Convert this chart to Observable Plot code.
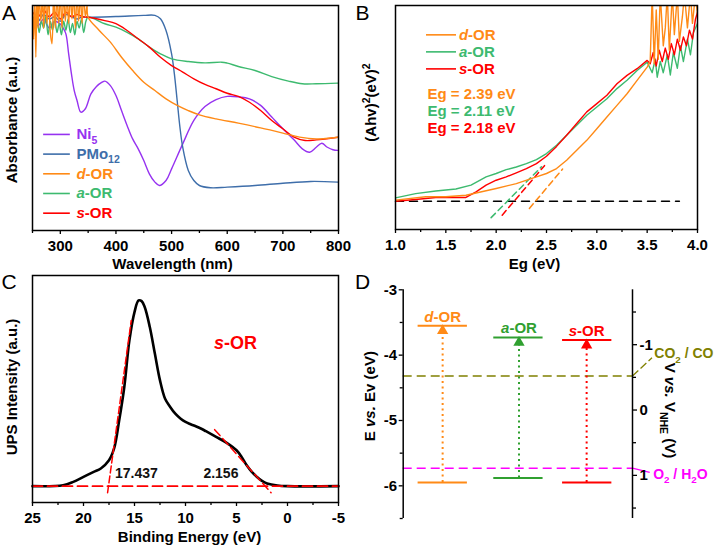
<!DOCTYPE html>
<html>
<head>
<meta charset="utf-8">
<script src="https://cdn.jsdelivr.net/npm/d3@7"></script>
<script src="https://cdn.jsdelivr.net/npm/@observablehq/plot@0.6"></script>
<style>
  html, body { margin: 0; padding: 0; background: white; }
  #fig { position: relative; width: 716px; height: 548px; overflow: hidden; background: white; }
</style>
</head>
<body>
<div id="fig"></div>
<script>
// ---------------- Panel A: UV-vis absorbance (normalized, a.u.) ----------------
const ni5 = [[250,0.93],[260,0.91],[270,0.94],[280,0.9],[290,0.93],[300,0.918],[305,0.9],[310,0.874],[315,0.785],[320,0.696],[325,0.622],[330,0.578],[337,0.526],[345,0.541],[355,0.607],[365,0.64],[375,0.659],[380,0.664],[390,0.644],[400,0.6],[410,0.533],[420,0.467],[430,0.407],[440,0.363],[450,0.311],[460,0.252],[470,0.215],[478,0.2],[490,0.222],[500,0.274],[520,0.385],[540,0.489],[560,0.551],[580,0.582],[600,0.596],[620,0.594],[640,0.585],[660,0.556],[680,0.504],[700,0.452],[720,0.403],[735,0.363],[748,0.348],[760,0.37],[770,0.388],[780,0.37],[790,0.359],[800,0.356]];
const pmo12 = [[250,0.95],[260,0.93],[270,0.96],[280,0.94],[290,0.95],[300,0.93],[310,0.96],[320,0.95],[330,0.94],[340,0.95],[350,0.948],[400,0.951],[450,0.956],[470,0.956],[480,0.941],[490,0.889],[500,0.785],[505,0.696],[510,0.578],[515,0.459],[520,0.37],[530,0.267],[540,0.222],[550,0.2],[570,0.19],[600,0.193],[650,0.2],[700,0.21],[750,0.218],[800,0.215]];
const dORa = [[250,0.98],[252,0.85],[254,1.05],[256,0.77],[258,1.05],[260,0.9],[262,1.05],[265,0.93],[268,1.05],[270,0.9],[273,1.05],[276,0.92],[279,1.05],[282,0.88],[285,0.83],[288,1.05],[291,0.9],[294,1.05],[297,0.92],[300,1.05],[303,0.9],[306,1.05],[309,0.93],[312,1.05],[315,0.92],[318,1.05],[321,0.94],[324,1.05],[327,0.9],[330,1.05],[333,0.93],[336,1.05],[339,0.92],[342,1.05],[345,0.95],[348,1.0],[350,0.948],[370,0.889],[390,0.837],[410,0.77],[430,0.711],[450,0.659],[470,0.622],[490,0.585],[510,0.556],[530,0.533],[550,0.514],[580,0.496],[620,0.477],[660,0.456],[700,0.433],[730,0.415],[760,0.407],[800,0.415]];
const aORa = [[250,0.94],[254,0.9],[258,0.95],[262,0.88],[266,0.93],[270,0.9],[274,0.95],[278,0.87],[282,0.93],[286,0.89],[290,0.94],[294,0.88],[298,0.92],[302,0.87],[306,0.93],[310,0.89],[314,0.94],[318,0.88],[322,0.92],[326,0.87],[330,0.93],[334,0.9],[338,0.94],[342,0.88],[346,0.93],[350,0.948],[380,0.919],[400,0.904],[420,0.881],[440,0.852],[460,0.815],[480,0.785],[500,0.763],[530,0.751],[560,0.745],[590,0.748],[600,0.744],[620,0.729],[650,0.711],[680,0.684],[710,0.664],[735,0.652],[760,0.652],[800,0.655]];
const sORa = [[250,0.97],[260,0.95],[270,0.98],[280,0.95],[290,0.97],[300,0.94],[310,0.97],[320,0.95],[330,0.96],[340,0.95],[350,0.948],[380,0.933],[400,0.919],[420,0.889],[440,0.852],[460,0.815],[480,0.77],[500,0.733],[520,0.704],[540,0.674],[560,0.649],[580,0.63],[600,0.61],[620,0.596],[640,0.57],[660,0.533],[680,0.489],[700,0.452],[720,0.415],[740,0.4],[760,0.403],[800,0.415]];
const legendA = ["Ni_{5}", "PMo_{12}", "*{d}-OR", "*{a}-OR", "*{s}-OR"];
const ticksA = [300, 400, 500, 600, 700, 800];
const minorA = [250, 350, 450, 550, 650, 750];

// ---------------- Panel B: Tauc plot ----------------
const dORb = [[1.0,0.131],[1.3,0.146],[1.5,0.146],[1.7,0.153],[2.0,0.183],[2.2,0.205],[2.4,0.235],[2.5,0.25],[2.6,0.272],[2.7,0.309],[2.8,0.354],[2.9,0.398],[3.0,0.45],[3.1,0.502],[3.2,0.554],[3.3,0.606],[3.4,0.666],[3.5,0.725],[3.53,0.75],[3.55,1.05],[3.57,0.74],[3.59,0.98],[3.61,0.76],[3.63,1.05],[3.66,0.82],[3.68,0.9],[3.7,1.05],[3.72,0.8],[3.75,1.05],[3.77,0.87],[3.8,1.05],[3.82,0.84],[3.85,0.95],[3.87,1.05],[3.9,0.9],[3.93,1.05],[3.95,0.92],[3.98,1.05],[4.0,0.96]];
const aORb = [[1.0,0.141],[1.2,0.16],[1.4,0.172],[1.6,0.181],[1.75,0.198],[1.9,0.235],[2.0,0.25],[2.1,0.267],[2.2,0.279],[2.3,0.294],[2.4,0.312],[2.5,0.339],[2.6,0.376],[2.7,0.421],[2.8,0.465],[2.9,0.51],[3.0,0.547],[3.1,0.584],[3.2,0.629],[3.3,0.666],[3.4,0.71],[3.5,0.747],[3.55,0.7],[3.58,0.76],[3.6,0.68],[3.63,0.75],[3.66,0.7],[3.7,0.78],[3.73,0.69],[3.76,0.79],[3.8,0.72],[3.83,0.82],[3.86,0.75],[3.9,0.85],[3.93,0.78],[3.96,0.88],[4.0,0.92]];
const sORb = [[1.0,0.126],[1.2,0.134],[1.4,0.143],[1.7,0.143],[1.8,0.168],[1.9,0.198],[2.0,0.22],[2.1,0.235],[2.2,0.253],[2.3,0.272],[2.4,0.294],[2.5,0.327],[2.6,0.371],[2.7,0.421],[2.8,0.473],[2.9,0.525],[3.0,0.562],[3.1,0.599],[3.2,0.651],[3.3,0.688],[3.4,0.718],[3.5,0.755],[3.53,0.74],[3.56,0.79],[3.59,0.73],[3.62,0.8],[3.65,0.75],[3.68,0.81],[3.71,0.76],[3.74,0.83],[3.77,0.78],[3.8,0.85],[3.83,0.8],[3.86,0.86],[3.89,0.82],[3.92,0.89],[3.95,0.85],[3.98,0.94],[4.0,0.97]];
const baselineB = [[1.0,0.126],[3.82,0.126]];
const tangentD = [[2.33,0.094],[2.66,0.27]];
const tangentA = [[1.95,0.053],[2.45,0.28]];
const tangentS = [[2.06,0.064],[2.48,0.285]];
const legendB = ["*{d}-OR", "*{a}-OR", "*{s}-OR"];
const egLabels = ["Eg = 2.39 eV", "Eg = 2.11 eV", "Eg = 2.18 eV"];
const ticksB = [1.0, 1.5, 2.0, 2.5, 3.0, 3.5, 4.0];
const minorB = [1.25, 1.75, 2.25, 2.75, 3.25, 3.75];

// ---------------- Panel C: UPS ----------------
const ups = [[25,0.072],[22,0.076],[21,0.091],[20,0.113],[19,0.135],[18.3,0.15],[17.5,0.186],[17,0.238],[16.5,0.362],[16,0.509],[15.5,0.714],[15,0.839],[14.6,0.89],[14.3,0.887],[14,0.861],[13.5,0.773],[13,0.655],[12.5,0.538],[12,0.457],[11.5,0.421],[11,0.391],[10.5,0.37],[10,0.355],[9.5,0.345],[9,0.336],[8.5,0.326],[8,0.314],[7,0.289],[6,0.264],[5,0.23],[4.5,0.201],[4,0.164],[3.5,0.135],[3,0.113],[2.5,0.095],[2,0.084],[1,0.075],[0,0.072],[-5,0.072]];
const upsBaseline = [[25,0.072],[-5,0.072]];
const upsCutoff = [[17.64,0.043],[15.32,0.802]];
const upsOnset = [[7.14,0.321],[1.61,0.043]];
const upsValues = [{x: 14.82, label: "17.437"}, {x: 6.53, label: "2.156"}];
const ticksC = [25, 20, 15, 10, 5, 0, -5];
const minorC = [22.5, 17.5, 12.5, 7.5, 2.5, -2.5];

// ---------------- Panel D: band positions ----------------
const bands = [
  {name: "*{d}-OR", cb: -3.55, vb: -5.95, x1: 0.65, x2: 2.8, xc: 1.72},
  {name: "*{a}-OR", cb: -3.73, vb: -5.88, x1: 3.95, x2: 6.1, xc: 5.05},
  {name: "*{s}-OR", cb: -3.77, vb: -5.95, x1: 6.95, x2: 9.1, xc: 8.0}
];
const co2co = -4.32;
const o2h2o = -5.73;
const ticksD = [-3, -4, -5, -6];
const minorD = [-3.5, -4.5, -5.5, -6.5];
const nheZero = -4.84;           // E (eV) at 0 V vs NHE on this figure's scale
const nheTicks = [-1, 0, 1];
const nheMinor = [-1.5, -0.5, 0.5, 1.5];

// ---------------- colours ----------------
const cNi5 = "#9632f0", cPMo = "#3e6eaa", cD = "#ff8a16", cA = "#3dba6f", cS = "#ff0000";
const cAD = "#30a030", cOlive = "#808000", cMag = "#ff00ff";
const colorsA = [cNi5, cPMo, cD, cA, cS];
const colorsB = [cD, cA, cS];
const colorsD = [cD, cAD, cS];

const FONT = "'Liberation Sans', Arial, Helvetica, sans-serif";
const baseStyle = {fontFamily: FONT, fontSize: "15px", fontWeight: "bold", color: "black", background: "transparent", overflow: "visible"};
const fmt = d => String(d);
const blank = () => "";

// Rich text: _{sub} ^{sup} *{italic}
function rich(svg) {
  d3.select(svg).selectAll("text").each(function() {
    const el = this;
    if (el.children.length) return;
    const s = el.textContent;
    if (!/[_^*]\{/.test(s)) return;
    const F = parseFloat(getComputedStyle(el).fontSize) || 15;
    el.textContent = "";
    const re = /([_^*])\{([^}]*)\}/g;
    let last = 0, shift = 0, m;
    const add = (txt, kind) => {
      if (!txt) return;
      const t = document.createElementNS("http://www.w3.org/2000/svg", "tspan");
      let target = 0;
      if (kind === "_") { target = 0.3 * F; t.setAttribute("font-size", (0.7 * F) + "px"); }
      else if (kind === "^") { target = -0.4 * F; t.setAttribute("font-size", (0.7 * F) + "px"); }
      else if (kind === "*") { t.setAttribute("font-style", "italic"); }
      const dy = target - shift;
      if (dy !== 0) t.setAttribute("dy", dy + "px");
      shift = target;
      t.textContent = txt;
      el.appendChild(t);
    };
    while ((m = re.exec(s))) {
      add(s.slice(last, m.index), "");
      add(m[2], m[1]);
      last = re.lastIndex;
    }
    add(s.slice(last), "");
  });
}

const fig = document.getElementById("fig");
function place(svg, left, top) {
  const d = document.createElement("div");
  d.style.cssText = `position:absolute;left:${left}px;top:${top}px;`;
  d.appendChild(svg);
  fig.appendChild(d);
  rich(svg);
}
const panelLetter = (t, dx, dy) => Plot.text([t], {frameAnchor: "top-left", dx, dy, fontSize: 21, fontWeight: "normal", textAnchor: "middle", lineAnchor: "middle"});
const xTitle = (t, dx, dy) => Plot.text([t], {frameAnchor: "bottom", dx, dy, fontSize: 15, fontWeight: "bold", textAnchor: "middle", lineAnchor: "middle"});
const yTitle = (t, anchor, rotate, dx, dy) => Plot.text([t], {frameAnchor: anchor, rotate, dx, dy, fontSize: 15, fontWeight: "bold", textAnchor: "middle", lineAnchor: "middle"});

// ---------------- Panel A ----------------
const seriesA = [ni5, pmo12, aORa, sORa, dORa];
const seriesAColors = [cNi5, cPMo, cA, cS, cD];
const plotA = Plot.plot({
  width: 358, height: 274, marginLeft: 32, marginRight: 20, marginTop: 5, marginBottom: 44,
  style: baseStyle,
  x: {domain: [250, 800]},
  y: {domain: [0, 1], axis: null},
  marks: [
    ...seriesA.map((s, i) => Plot.line(s, {x: d => d[0], y: d => d[1], stroke: seriesAColors[i], strokeWidth: 1.4, curve: "catmull-rom", clip: true})),
    Plot.frame({stroke: "black", strokeWidth: 1.5}),
    Plot.axisX({ticks: ticksA, tickSize: 4, tickPadding: 6, tickFormat: fmt, label: null, strokeWidth: 1.3}),
    Plot.axisX({ticks: minorA, tickSize: 3, tickFormat: blank, label: null, strokeWidth: 1.3}),
    Plot.ruleY(legendA, {y: (d, i) => 0.427 - i * 0.0875, x1: 270, x2: 318, stroke: (d, i) => colorsA[i], strokeWidth: 1.6}),
    Plot.text(legendA, {y: (d, i) => 0.427 - i * 0.0875, x: 329, text: d => d, fill: (d, i) => colorsA[i], textAnchor: "start", fontSize: 15, fontWeight: "bold"}),
    xTitle("Wavelength (nm)", -13, 34),
    yTitle("Absorbance (a.u.)", "left", -90, -20, 2),
    panelLetter("A", -23.5, 7.5)
  ]
});

// ---------------- Panel B ----------------
const plotB = Plot.plot({
  width: 358, height: 274, marginLeft: 37, marginRight: 19, marginTop: 5, marginBottom: 45,
  style: baseStyle,
  x: {domain: [1, 4]},
  y: {domain: [0, 1], axis: null},
  marks: [
    Plot.line(baselineB, {x: d => d[0], y: d => d[1], stroke: "black", strokeWidth: 1.5, strokeDasharray: "8,6"}),
    Plot.line(tangentD, {x: d => d[0], y: d => d[1], stroke: cD, strokeWidth: 1.5, strokeDasharray: "6,4"}),
    Plot.line(tangentA, {x: d => d[0], y: d => d[1], stroke: cA, strokeWidth: 1.5, strokeDasharray: "6,4"}),
    Plot.line(tangentS, {x: d => d[0], y: d => d[1], stroke: cS, strokeWidth: 1.5, strokeDasharray: "6,4"}),
    Plot.line(aORb, {x: d => d[0], y: d => d[1], stroke: cA, strokeWidth: 1.4, clip: true}),
    Plot.line(sORb, {x: d => d[0], y: d => d[1], stroke: cS, strokeWidth: 1.4, clip: true}),
    Plot.line(dORb, {x: d => d[0], y: d => d[1], stroke: cD, strokeWidth: 1.4, clip: true}),
    Plot.frame({stroke: "black", strokeWidth: 1.5}),
    Plot.axisX({ticks: ticksB, tickSize: 4, tickPadding: 6, tickFormat: d3.format(".1f"), label: null, strokeWidth: 1.3}),
    Plot.axisX({ticks: minorB, tickSize: 3, tickFormat: blank, label: null, strokeWidth: 1.3}),
    Plot.ruleY(legendB, {y: (d, i) => 0.869 - i * 0.076, x1: 1.308, x2: 1.606, stroke: (d, i) => colorsB[i], strokeWidth: 1.6}),
    Plot.text(legendB, {y: (d, i) => 0.869 - i * 0.076, x: 1.63, text: d => d, fill: (d, i) => colorsB[i], textAnchor: "start", fontSize: 15, fontWeight: "bold"}),
    Plot.text(egLabels, {y: (d, i) => 0.606 - i * 0.076, x: 1.318, text: d => d, fill: (d, i) => colorsB[i], textAnchor: "start", fontSize: 15, fontWeight: "bold"}),
    xTitle("Eg (eV)", -12, 35),
    yTitle("(Ahv)^{2}(eV)^{2}", "left", -90, -24, -15),
    panelLetter("B", -33, 7.5)
  ]
});

// ---------------- Panel C ----------------
const plotC = Plot.plot({
  width: 358, height: 280, marginLeft: 32, marginRight: 20, marginTop: 7, marginBottom: 46,
  style: baseStyle,
  x: {domain: [25, -5]},
  y: {domain: [0, 1], axis: null},
  marks: [
    Plot.line(ups, {x: d => d[0], y: d => d[1], stroke: "black", strokeWidth: 2.6, curve: "catmull-rom"}),
    Plot.line(upsBaseline, {x: d => d[0], y: d => d[1], stroke: cS, strokeWidth: 1.8, strokeDasharray: "10,5"}),
    Plot.line(upsCutoff, {x: d => d[0], y: d => d[1], stroke: cS, strokeWidth: 1.5, strokeDasharray: "7,3"}),
    Plot.line(upsOnset, {x: d => d[0], y: d => d[1], stroke: cS, strokeWidth: 1.5, strokeDasharray: "8,4"}),
    Plot.frame({stroke: "black", strokeWidth: 1.5}),
    Plot.axisX({ticks: ticksC, tickSize: 4, tickPadding: 6, tickFormat: fmt, label: null, strokeWidth: 1.3}),
    Plot.axisX({ticks: minorC, tickSize: 3, tickFormat: blank, label: null, strokeWidth: 1.3}),
    Plot.text(upsValues, {x: "x", y: 0.126, text: "label", fontSize: 14, fontWeight: "bold", fill: "#111"}),
    Plot.text(["*{s}-OR"], {x: 5.1, y: 0.702, fill: cS, fontSize: 18, fontWeight: "bold"}),
    xTitle("Binding Energy (eV)", 4, 35),
    yTitle("UPS Intensity (a.u.)", "left", -90, -20, -2),
    panelLetter("C", -23.5, 7)
  ]
});

// ---------------- Panel D ----------------
const plotD = Plot.plot({
  width: 358, height: 280, marginLeft: 44.7, marginRight: 84, marginTop: 21.3, marginBottom: 30,
  style: baseStyle,
  x: {domain: [0, 10], axis: null},
  y: {domain: [-6.5, -3]},
  marks: [
    Plot.ruleY([co2co], {x1: 0, x2: 10, stroke: cOlive, strokeWidth: 1.6, strokeDasharray: "9,5"}),
    Plot.ruleY([o2h2o], {x1: 0, x2: 10, stroke: cMag, strokeWidth: 1.6, strokeDasharray: "9,5"}),
    Plot.link([co2co], {x1: 10, y1: d => d, x2: 10.85, y2: -4.04, stroke: cOlive, strokeWidth: 1.3, strokeDasharray: "8,3"}),
    Plot.link([o2h2o], {x1: 10, y1: d => d, x2: 10.75, y2: -5.793, stroke: cMag, strokeWidth: 1.3}),
    Plot.text(["CO_{2} / CO"], {x: 10.95, y: -3.98, textAnchor: "start", fill: cOlive, fontSize: 14, fontWeight: "bold"}),
    Plot.text(["O_{2} / H_{2}O"], {x: 10.9, y: -5.83, textAnchor: "start", fill: cMag, fontSize: 14, fontWeight: "bold"}),
    Plot.ruleX(bands, {x: "xc", y1: "vb", y2: "cb", stroke: (d, i) => colorsD[i], strokeWidth: 2, strokeDasharray: "2,3.5"}),
    Plot.ruleY(bands, {y: "cb", x1: "x1", x2: "x2", stroke: (d, i) => colorsD[i], strokeWidth: 2}),
    Plot.ruleY(bands, {y: "vb", x1: "x1", x2: "x2", stroke: (d, i) => colorsD[i], strokeWidth: 2}),
    Plot.dot(bands, {x: "xc", y: "cb", symbol: "triangle", r: 4.2, fill: (d, i) => colorsD[i], stroke: "none", dy: 5}),
    Plot.text(bands, {x: "xc", y: "cb", text: "name", fill: (d, i) => colorsD[i], dy: -9, fontSize: 15, fontWeight: "bold"}),
    Plot.ruleX([0], {stroke: "black", strokeWidth: 1.5}),
    Plot.ruleX([10], {stroke: "black", strokeWidth: 1.5}),
    Plot.axisY({ticks: ticksD, anchor: "left", tickSize: 4, tickPadding: 2, tickFormat: fmt, label: null, strokeWidth: 1.3}),
    Plot.axisY({ticks: minorD, anchor: "left", tickSize: 3, tickFormat: blank, label: null, strokeWidth: 1.3}),
    Plot.axisY({ticks: nheTicks.map(v => nheZero - v), anchor: "right", tickSize: 4, tickPadding: 3, tickFormat: e => String(Math.round(nheZero - e)), label: null, strokeWidth: 1.3}),
    Plot.axisY({ticks: nheMinor.map(v => nheZero - v), anchor: "right", tickSize: 3, tickFormat: blank, label: null, strokeWidth: 1.3}),
    yTitle("E *{vs.} Ev (eV)", "left", -90, -33.4, -8),
    yTitle("V *{vs.} V_{NHE} (V)", "right", 90, 37.3, 6.3),
    panelLetter("D", -40.7, -7.3)
  ]
});

place(plotA, 0, 0);
place(plotB, 358, 0);
place(plotC, 0, 268);
place(plotD, 358, 268);
</script>
</body>
</html>
